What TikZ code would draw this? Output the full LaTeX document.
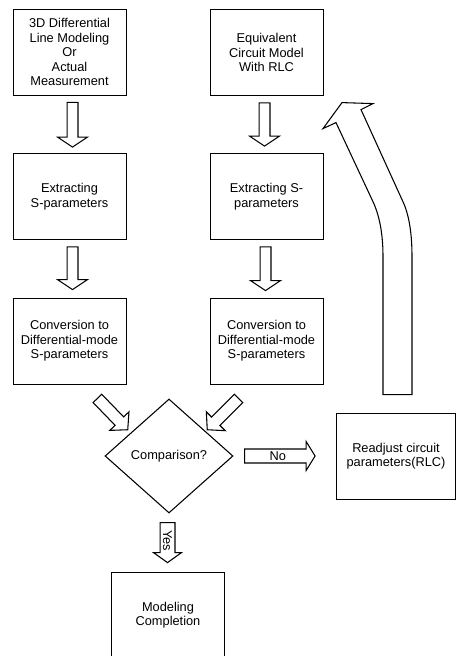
\documentclass[tikz,border=0pt]{standalone}
\usepackage{fontspec}
\setmainfont{Liberation Sans}
\usetikzlibrary{calc}
\usetikzlibrary{shapes.geometric}

% hollow block arrow: start, end, shaft half width, head half width, head length
\newcommand{\hollowarrow}[5]{%
  \coordinate (ha-s) at (#1);
  \coordinate (ha-e) at (#2);
  \coordinate (ha-b) at ($(ha-e)!#5!(ha-s)$);
  \draw[arrowline] ($(ha-s)!#3!90:(ha-e)$) -- ($(ha-b)!#3!-90:(ha-s)$) -- ($(ha-b)!#4!-90:(ha-s)$) -- (ha-e)
    -- ($(ha-b)!#4!90:(ha-s)$) -- ($(ha-b)!#3!90:(ha-s)$) -- ($(ha-s)!#3!-90:(ha-e)$) -- cycle;}

\begin{document}
\begin{tikzpicture}[x=0.75pt,y=-0.75pt,font=\fontsize{9.6}{10.9}\selectfont,
    box/.style={draw, line width=0.6pt, minimum width=84.75pt, minimum height=64.5pt, align=center, inner sep=1pt},
    arrowline/.style={draw, line width=0.8pt, fill=white, line join=miter}]
    \useasboundingbox (0,0) rectangle (457,656);
    \clip (0,0) rectangle (457,656);

    % left column
    \node[box] (model) at (69.5,52) {3D Differential\\Line Modeling\\Or\\Actual\\Measurement};
    \node[box] (extl) at (69.5,196.5) {Extracting\\S-parameters};
    \node[box] (convl) at (69.5,341) {Conversion to\\Differential-mode\\S-parameters};

    % right column
    \node[box] (equiv) at (266.5,52.5) {Equivalent\\Circuit Model\\With RLC};
    \node[box] (extr) at (266.5,196.5) {Extracting S-\\parameters};
    \node[box] (convr) at (266.5,341) {Conversion to\\Differential-mode\\S-parameters};

    \node[draw, diamond, minimum width=96pt, minimum height=85.5pt, inner sep=0pt, line width=0.8pt] (cmp) at (169,456) {Comparison?};
    \node[box, minimum width=89.25pt] (rd) at (396,456) {Readjust circuit\\parameters(RLC)};
    \node[box] (done) at (168,615) {Modeling\\Completion};

    \hollowarrow{$(model.south)+(3,7)$}{$(extl.north)+(3,-6)$}{4.1pt}{11.25pt}{7.5pt}
    \hollowarrow{$(extl.south)+(3,7)$}{$(convl.north)+(3,-8)$}{4.1pt}{11.25pt}{7.5pt}
    \hollowarrow{$(equiv.south)+(-2,7)$}{$(extr.north)+(-2,-7)$}{4.1pt}{11.25pt}{7.5pt}
    \hollowarrow{$(extr.south)+(-1,7)$}{$(convr.north)+(-1,-7)$}{4.1pt}{11.25pt}{7.5pt}

    \hollowarrow{$(convl.south east)+(-29,14)$}{$(cmp.north west)+(-9,2.5)$}{4.5pt}{10pt}{9pt}
    \hollowarrow{$(convr.south west)+(29,14)$}{$(cmp.north east)+(6,2.5)$}{4.5pt}{10pt}{9pt}

    \hollowarrow{$(cmp.east)+(11,0)$}{$(rd.west)+(-21,0)$}{5.25pt}{10.9pt}{6.75pt}
    \node (no) at ($(ha-s)!0.47!(ha-e)$) {No};

    \hollowarrow{$(cmp.south)+(-1.5,9)$}{$(done.north)+(-0.5,-9)$}{5.6pt}{10.5pt}{7.5pt}
    \node[rotate=-90] (yes) at ($(ha-s)!0.45!(ha-e)$) {Yes};

    % back to the circuit model
    \begin{scope}[shift={(rd.north)}]
        \draw[arrowline] (-13,-18) -- (-13,-156) .. controls (-13,-183) and (-18,-201) .. (-24,-213)
            -- (-60,-290) -- (-73,-284) -- (-54,-310) -- (-23,-309) -- (-35,-303) -- (6,-213)
            .. controls (12,-201) and (16,-183) .. (16,-156) -- (16,-18) -- cycle;
    \end{scope}

\end{tikzpicture}
\end{document}
